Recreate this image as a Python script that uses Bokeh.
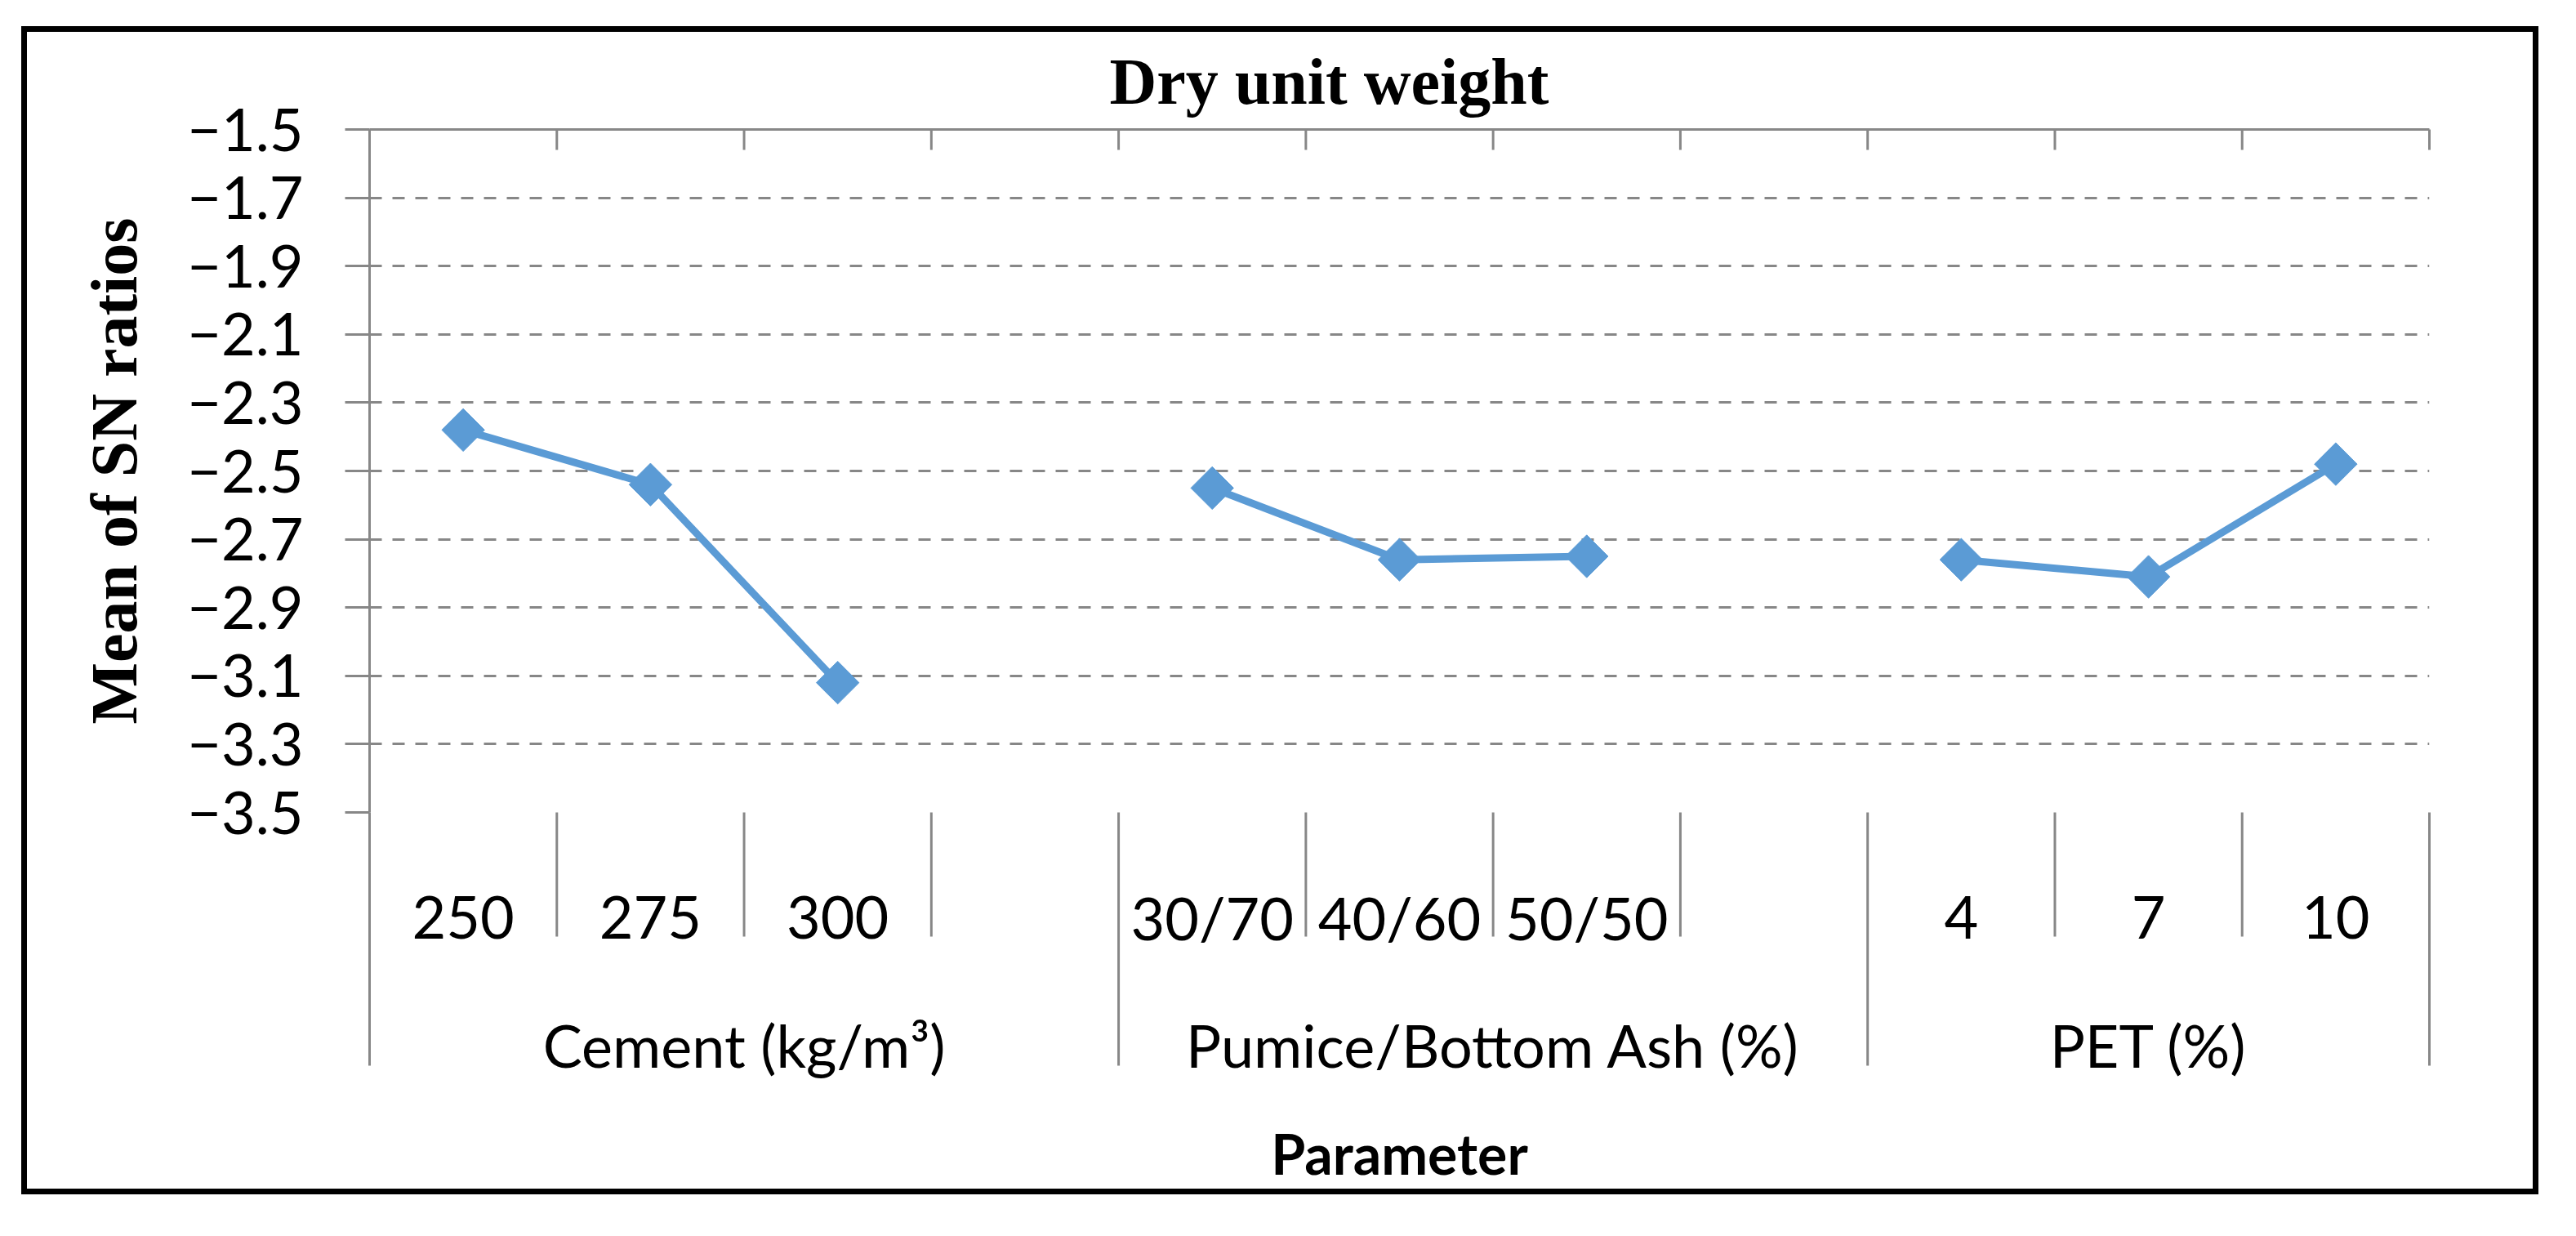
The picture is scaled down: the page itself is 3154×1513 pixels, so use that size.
import math
from bokeh.plotting import figure
from bokeh.models import (FactorRange, Range1d, LinearAxis, FixedTicker, Grid,
                          CustomJSTickFormatter, ColumnDataSource)
from bokeh.core.properties import value
from bokeh.embed import file_html
from bokeh.resources import INLINE

# ---------------- data ----------------
title_text = "Dry unit weight"
y_label = "Mean of SN ratios"
x_label = "Parameter"
groups = ["Cement (kg/m\u00b3)", "Pumice/Bottom Ash (%)", "PET (%)"]
cement_levels = ["250", "275", "300"]
pumice_levels = ["30/70", "40/60", "50/50"]
pet_levels = ["4", "7", "10"]
cement_sn = [-2.38, -2.54, -3.12]
pumice_sn = [-2.55, -2.76, -2.75]
pet_sn = [-2.76, -2.81, -2.48]
y_ticks = [-3.5, -3.3, -3.1, -2.9, -2.7, -2.5, -2.3, -2.1, -1.9, -1.7, -1.5]

levels_by_group = [cement_levels, pumice_levels, pet_levels]
sn_by_group = [cement_sn, pumice_sn, pet_sn]

# Excel chart has an empty category after the first two groups
factors = []
group_edges = [0]
for i, (g, levs) in enumerate(zip(groups, levels_by_group)):
    factors += [(g, lv) for lv in levs]
    if i < len(groups) - 1:
        factors.append((g, " "))
    group_edges.append(len(factors))
n_slots = len(factors)
all_edges = list(range(n_slots + 1))          # synthetic category boundaries
inner_edges = [k for k in all_edges if k not in group_edges]

# ---------------- layout (figure pixels) ----------------
W, H = 3138, 1497
F_LEFT, F_RIGHT, F_TOP, F_BOTTOM = 452, 2974, 158, 994
y_start, y_end = min(y_ticks), max(y_ticks)
px_per_unit = (F_BOTTOM - F_TOP) / (y_end - y_start)
px_per_slot = (F_RIGHT - F_LEFT) / n_slots


def y_at(px):
    """data y for a pixel row of the figure"""
    return y_start - (px - F_BOTTOM) / px_per_unit


def x_at(px):
    """synthetic x for a pixel column of the figure"""
    return (px - F_LEFT) / px_per_slot


BLUE = "#5B9BD5"
GREY = "#878787"
SANS = "Lato"
SERIF = "Liberation Serif"

p = figure(width=W, height=H, output_backend="svg", toolbar_location=None,
           x_range=FactorRange(factors=factors, factor_padding=0, group_padding=0,
                               subgroup_padding=0, range_padding=0),
           y_range=Range1d(y_start, y_end),
           x_axis_location=None, y_axis_location=None,
           min_border_left=F_LEFT, min_border_right=W - F_RIGHT,
           min_border_top=F_TOP, min_border_bottom=H - F_BOTTOM)
for g in p.grid:
    g.visible = False
p.outline_line_color = None
p.background_fill_color = "white"
p.border_fill_color = "white"

# title
p.title.text = title_text
p.title.text_font = SERIF
p.title.text_font_size = "80px"
p.title.text_font_style = "bold"
p.title.text_color = "black"
p.title.align = "left"
p.title.offset = 906
p.title.standoff = 29

# y axis
yaxis = LinearAxis(ticker=FixedTicker(ticks=y_ticks),
                   formatter=CustomJSTickFormatter(code="return tick.toFixed(1).replace('-', '\u2212')"),
                   axis_line_color=GREY, axis_line_width=3,
                   major_tick_in=0, major_tick_out=30,
                   major_tick_line_color=GREY, major_tick_line_width=3,
                   minor_tick_line_color=None,
                   major_label_text_font=SANS, major_label_text_font_size="72px",
                   major_label_text_color="black", major_label_standoff=51,
                   axis_label=y_label, axis_label_text_font=SERIF,
                   axis_label_text_font_size="80px", axis_label_text_font_style="bold",
                   axis_label_text_color="black", axis_label_standoff=42)
p.add_layout(yaxis, "left")

grid = Grid(dimension=1, ticker=FixedTicker(ticks=y_ticks[:-1]),
            grid_line_color=GREY, grid_line_width=3, grid_line_dash="15 13")
p.add_layout(grid)

# bottom axis: only carries the axis title
bottom_axis = LinearAxis(ticker=FixedTicker(ticks=[]),
                         axis_line_color=None, major_tick_line_color=None,
                         minor_tick_line_color=None, major_label_standoff=0,
                         axis_label=x_label, axis_label_text_font=SANS,
                         axis_label_text_font_size="68px", axis_label_text_font_style="bold",
                         axis_label_text_color="black", axis_label_standoff=376)
p.add_layout(bottom_axis, "below")

# top category-axis line with boundary ticks pointing inward
p.segment(x0=[0], y0=[y_end], x1=[n_slots], y1=[y_end],
          line_color=GREY, line_width=3, level="overlay")
p.segment(x0=all_edges, y0=[y_end] * len(all_edges), x1=all_edges,
          y1=[y_at(F_TOP + 25)] * len(all_edges),
          line_color=GREY, line_width=3, level="overlay")

# data
for g, levs, vals in zip(groups, levels_by_group, sn_by_group):
    src = ColumnDataSource(dict(x=[(g, lv) for lv in levs], y=vals))
    p.line("x", "y", source=src, line_color=BLUE, line_width=9)
    p.scatter("x", "y", source=src, marker="square", size=37, angle=math.pi / 4,
              fill_color=BLUE, line_color=BLUE)

# multi-level category labels below the plot
cat_factors = [f for f in factors if f[1].strip()]
cat_src = ColumnDataSource(dict(x=cat_factors, y=[y_at(1122)] * len(cat_factors),
                                text=[f[1] for f in cat_factors]))
p.text("x", "y", text="text", source=cat_src, text_align="center",
       text_baseline="alphabetic", text_font=value(SANS), text_font_size="72px",
       text_color="black", level="overlay")
grp_src = ColumnDataSource(dict(x=groups, y=[y_at(1278)] * len(groups), text=groups))
p.text("x", "y", text="text", source=grp_src, text_align="center",
       text_baseline="alphabetic", text_font=value(SANS), text_font_size="72px",
       text_color="black", level="overlay")

# category separators
p.segment(x0=inner_edges, y0=[y_start] * len(inner_edges), x1=inner_edges,
          y1=[y_at(1146)] * len(inner_edges),
          line_color=GREY, line_width=3, level="overlay")
p.segment(x0=group_edges, y0=[y_start] * len(group_edges), x1=group_edges,
          y1=[y_at(1304)] * len(group_edges),
          line_color=GREY, line_width=3, level="overlay")

# outer frame of the whole chart
p.quad(left=[x_at(29)], right=[x_at(3104)], top=[y_at(35)], bottom=[y_at(1458)],
       fill_color=None, line_color="black", line_width=7, line_join="miter",
       level="overlay")

open("out.html", "w").write(file_html(p, INLINE))
